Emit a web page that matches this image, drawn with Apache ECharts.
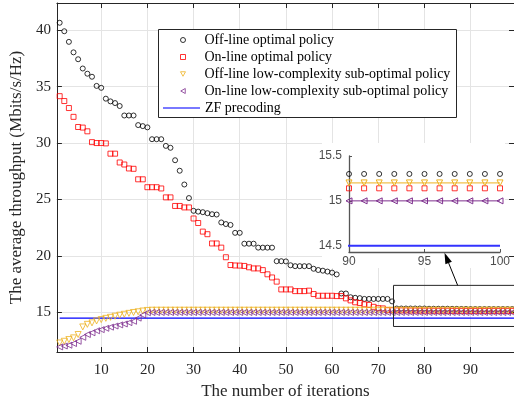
<!DOCTYPE html>
<html>
<head>
<meta charset="utf-8">
<script src="https://cdn.jsdelivr.net/npm/echarts@6/dist/echarts.min.js"></script>
<style>
html, body { margin: 0; padding: 0; background: #fff; }
#chart { width: 514px; height: 405px; }
</style>
</head>
<body>
<div id="chart"></div>
<script>
// values, iteration 1..100
var offOptimal = [
    40.65, 39.9, 38.96, 38.03, 37.42, 36.6, 36.14, 35.87, 35.06, 34.89,
    33.93, 33.69, 33.54, 33.28, 32.44, 32.44, 32.44, 31.59, 31.5, 31.39,
    30.34, 30.34, 30.34, 29.75, 29.58, 28.48, 27.55, 26.33, 25.13, 24.0,
    23.93, 23.88, 23.79, 23.7, 23.67, 22.97, 22.83, 22.75, 22.05, 22.05,
    21.09, 21.09, 21.09, 20.74, 20.74, 20.74, 20.74, 19.54, 19.54, 19.52,
    19.18, 19.1, 19.1, 19.1, 19.1, 18.87, 18.76, 18.7, 18.62, 18.53,
    18.37, 16.68, 16.68, 16.35, 16.3, 16.27, 16.2, 16.2, 16.2, 16.2,
    16.2, 16.2, 15.98, 15.35, 15.35, 15.35, 15.35, 15.35, 15.35, 15.35,
    15.33, 15.33, 15.33, 15.33, 15.33, 15.32, 15.32, 15.31, 15.31, 15.3,
    15.3, 15.3, 15.3, 15.3, 15.3, 15.3, 15.3, 15.3, 15.3, 15.3
]
var onOptimal = [
    34.15, 33.72, 33.1, 32.32, 31.42, 31.37, 31.04, 30.08, 30.0, 30.0,
    29.97, 29.06, 29.06, 28.28, 28.1, 27.75, 27.72, 26.79, 26.79, 26.09,
    26.09, 26.09, 25.98, 25.19, 25.19, 24.43, 24.43, 24.3, 24.3, 23.32,
    22.92, 22.16, 21.93, 21.11, 21.11, 20.74, 19.89, 19.2, 19.16, 19.15,
    19.12, 19.0, 18.9, 18.9, 18.75, 18.38, 18.1, 17.73, 17.04, 17.04,
    17.04, 16.89, 16.89, 16.89, 16.93, 16.63, 16.48, 16.48, 16.48, 16.48,
    16.45, 16.45, 16.25, 16.07, 15.9, 15.84, 15.72, 15.67, 15.5, 15.38,
    15.36, 15.2, 15.2, 15.18, 15.18, 15.18, 15.17, 15.17, 15.16, 15.16,
    15.16, 15.15, 15.15, 15.15, 15.15, 15.14, 15.14, 15.14, 15.14, 15.14,
    15.14, 15.14, 15.14, 15.14, 15.14, 15.14, 15.14, 15.14, 15.14, 15.14
]
var offLowComplexity = [
    12.3, 12.45, 12.6, 12.75, 13.05, 13.72, 13.95, 14.08, 14.25, 14.37,
    14.48, 14.57, 14.67, 14.76, 14.84, 14.92, 15.0, 15.06, 15.13, 15.18,
    15.2, 15.2, 15.2, 15.2, 15.2, 15.2, 15.2, 15.2, 15.2, 15.2,
    15.2, 15.2, 15.2, 15.2, 15.2, 15.2, 15.2, 15.2, 15.2, 15.2,
    15.2, 15.2, 15.2, 15.2, 15.2, 15.2, 15.2, 15.2, 15.2, 15.2,
    15.2, 15.2, 15.2, 15.2, 15.2, 15.2, 15.2, 15.2, 15.2, 15.2,
    15.2, 15.2, 15.2, 15.2, 15.2, 15.2, 15.2, 15.2, 15.2, 15.2,
    15.2, 15.2, 15.2, 15.2, 15.2, 15.2, 15.2, 15.2, 15.2, 15.2,
    15.2, 15.2, 15.2, 15.2, 15.2, 15.2, 15.2, 15.2, 15.2, 15.2,
    15.2, 15.2, 15.2, 15.2, 15.2, 15.2, 15.2, 15.2, 15.2, 15.2
]
var onLowComplexity = [
    11.95, 12.03, 12.1, 12.25, 12.45, 12.8, 13.05, 13.2, 13.38, 13.48,
    13.6, 13.7, 13.8, 13.9, 13.98, 14.1, 14.22, 14.5, 14.78, 14.98,
    15.0, 15.0, 15.0, 15.0, 15.0, 15.0, 15.0, 15.0, 15.0, 15.0,
    15.0, 15.0, 15.0, 15.0, 15.0, 15.0, 15.0, 15.0, 15.0, 15.0,
    15.0, 15.0, 15.0, 15.0, 15.0, 15.0, 15.0, 15.0, 15.0, 15.0,
    15.0, 15.0, 15.0, 15.0, 15.0, 15.0, 15.0, 15.0, 15.0, 15.0,
    15.0, 15.0, 15.0, 15.0, 15.0, 15.0, 15.0, 15.0, 15.0, 15.0,
    15.0, 15.0, 15.0, 15.0, 15.0, 15.0, 15.0, 15.0, 15.0, 15.0,
    15.0, 15.0, 15.0, 15.0, 15.0, 15.0, 15.0, 15.0, 15.0, 15.0,
    15.0, 15.0, 15.0, 15.0, 15.0, 15.0, 15.0, 15.0, 15.0, 15.0
]
var zfIterations = [1, 100]
var zfValues = [14.5, 14.5]

var seriesNames = [
    'Off-line optimal policy',
    'On-line optimal policy',
    'Off-line low-complexity sub-optimal policy',
    'On-line low-complexity sub-optimal policy',
    'ZF precoding'
]

// zoom box / arrow, in data units of the main axes
var zoomBox = [[73.3, 17.4], [110, 13.76]]
var arrowFrom = [87.2, 17.4]
var arrowTo = [84.35, 20.28]

var serif = '"Liberation Serif", "Times New Roman", serif'
var sans = '"Liberation Sans", Arial, sans-serif'
var axisColor = '#262626'

// legend icons for the two triangle markers (down / left)
var triDown = 'path://M0,0L10,0L5,9Z'
var triLeft = 'path://M9,0L9,10L0,5Z'

/** pairs [iteration, value], from..to */
function toPairs(values, from, to) {
    let out = []
    for (let i = from; i <= to; i++) {
        out.push([i, values[i - 1]])
    }
    return out
}

function markerSeries(name, values, symbol, rotate, color, inset, size = 5) {
    let s = {
        type: 'scatter',
        xAxisIndex: inset ? 2 : 0,
        yAxisIndex: inset ? 2 : 0,
        data: inset ? toPairs(values, 90, 100) : toPairs(values, 1, 100),
        symbol: symbol,
        symbolRotate: rotate,
        symbolSize: size,
        clip: !inset,
        z: inset ? 6 : 2,
        itemStyle: { color: 'rgba(0,0,0,0)', borderColor: color, borderWidth: 1 },
        emphasis: { disabled: true }
    }
    if (name) s.name = name
    return s
}

function insetLine(values, symbol, rotate, color) {
    return {
        type: 'line',
        xAxisIndex: 2,
        yAxisIndex: 2,
        data: toPairs(values, 90, 100),
        symbol: symbol,
        symbolRotate: rotate,
        symbolSize: 6,
        showSymbol: true,
        clip: false,
        z: 6,
        lineStyle: { color: color, width: 1 },
        itemStyle: { color: 'rgba(0,0,0,0)', borderColor: color, borderWidth: 1 },
        emphasis: { disabled: true }
    }
}

function mainAxis(extra) {
    return Object.assign({
        type: 'value',
        gridIndex: 0,
        axisLine: { show: true, onZero: false, lineStyle: { color: axisColor, width: 1 } },
        axisTick: { show: true, inside: true, length: 5, lineStyle: { color: axisColor } },
        splitLine: { show: true, lineStyle: { color: '#e4e4e4', width: 1 } }
    }, extra)
}

var legendText = { fontFamily: serif, fontSize: 14, color: '#000', lineHeight: 14 }

var myChart = echarts.init(document.getElementById('chart'))

var option = {
    animation: false,
    backgroundColor: '#fff',
    grid: [
        { left: 50, right: 0, top: 3, bottom: 50 },
        { left: 349, top: 156, width: 151, height: 96 }
    ],
    legend: [
        {
            // four marker entries
            orient: 'vertical',
            left: 180,
            top: 33,
            padding: 0,
            itemGap: 3,
            itemWidth: 5,
            itemHeight: 5,
            z: 10,
            data: [
                { name: seriesNames[0] },
                { name: seriesNames[1] },
                { name: seriesNames[2], icon: triDown },
                { name: seriesNames[3], icon: triLeft }
            ],
            itemStyle: { borderWidth: 1 },
            textStyle: Object.assign({ padding: [0, 0, 0, 14] }, legendText)
        },
        {
            // ZF line entry
            orient: 'vertical',
            left: 163,
            top: 101,
            padding: 0,
            itemWidth: 37,
            itemHeight: 1.3,
            z: 10,
            data: [{ name: seriesNames[4], icon: 'rect' }],
            itemStyle: { color: '#4d4dff' },
            textStyle: legendText
        }
    ],
    xAxis: [
        mainAxis({
            min: 0.4, max: 99.4, splitNumber: 10,
            name: 'The number of iterations',
            nameLocation: 'middle',
            nameGap: 31,
            nameTextStyle: { fontFamily: serif, fontSize: 17, color: axisColor },
            axisLabel: { showMinLabel: false, showMaxLabel: false, color: axisColor, fontFamily: serif, fontSize: 15, margin: 11 }
        }),
        mainAxis({
            min: 0.4, max: 99.4, splitNumber: 10, position: 'top',
            axisLabel: { show: false }, splitLine: { show: false }
        }),
        {
            type: 'value', gridIndex: 1, min: 90, max: 100, interval: 5, z: 5,
            axisLine: { show: true, onZero: false, lineStyle: { color: '#555', width: 1.3 } },
            axisTick: { show: true, inside: true, length: 3, lineStyle: { color: '#555' } },
            axisLabel: { color: '#4d4d4d', fontFamily: sans, fontSize: 12, margin: 4 },
            splitLine: { show: false }
        }
    ],
    yAxis: [
        mainAxis({
            min: 11.5, max: 42.4, splitNumber: 6,
            name: 'The average throughput (Mbits/s/Hz)',
            nameLocation: 'middle',
            nameGap: 27,
            nameTextStyle: { fontFamily: serif, fontSize: 17, color: axisColor },
            axisLabel: { showMinLabel: false, showMaxLabel: false, color: axisColor, fontFamily: serif, fontSize: 15, margin: 6 }
        }),
        mainAxis({
            min: 11.5, max: 42.4, splitNumber: 6, position: 'right',
            axisLabel: { show: false }, splitLine: { show: false }
        }),
        {
            type: 'value', gridIndex: 1, min: 14.43, max: 15.5, splitNumber: 2, z: 5,
            axisLine: { show: true, onZero: false, lineStyle: { color: '#555', width: 1.3 } },
            axisTick: { show: true, inside: true, length: 3, lineStyle: { color: '#555' } },
            axisLabel: { showMinLabel: false, color: '#4d4d4d', fontFamily: sans, fontSize: 12, margin: 7 },
            splitLine: { show: false }
        }
    ],
    series: [
        markerSeries(seriesNames[0], offOptimal, 'circle', 0, '#000', false),
        markerSeries(seriesNames[1], onOptimal, 'rect', 0, '#ff0000', false),
        markerSeries(seriesNames[2], offLowComplexity, 'triangle', 180, '#edb120', false, 6),
        markerSeries(seriesNames[3], onLowComplexity, 'triangle', 90, '#7e2f8e', false, 6),
        {
            name: seriesNames[4],
            type: 'line',
            data: zfIterations.map((x, i) => [x, zfValues[i]]),
            symbol: 'none',
            z: 2,
            lineStyle: { color: '#0000ff', width: 1.3 },
            itemStyle: { color: '#0000ff' },
            emphasis: { disabled: true }
        },
        // inset copies
        markerSeries(null, offOptimal, 'circle', 0, '#000', true),
        markerSeries(null, onOptimal, 'rect', 0, '#ff0000', true),
        insetLine(offLowComplexity, 'triangle', 180, '#edb120'),
        insetLine(onLowComplexity, 'triangle', 90, '#7e2f8e'),
        {
            type: 'line',
            xAxisIndex: 2,
            yAxisIndex: 2,
            data: zfIterations.map((x, i) => [x, zfValues[i]]),
            symbol: 'none',
            z: 6,
            lineStyle: { color: '#3333ff', width: 2 },
            emphasis: { disabled: true }
        }
    ]
}

myChart.setOption(option)

// legend frame, zoom rectangle and arrow (placed through the main axes)
let toPx = p => myChart.convertToPixel({ xAxisIndex: 0, yAxisIndex: 0 }, p)
let b0 = toPx(zoomBox[0])
let b1 = toPx(zoomBox[1])
let a0 = toPx(arrowFrom)
let a1 = toPx(arrowTo)
let dx = a1[0] - a0[0], dy = a1[1] - a0[1]
let len = Math.sqrt(dx * dx + dy * dy)
let ux = dx / len, uy = dy / len
let headLen = 11, headHalf = 3.5
let base = [a1[0] - ux * headLen, a1[1] - uy * headLen]

myChart.setOption({
    graphic: [
        // white background behind the inset
        { id: 'insetBg', type: 'rect', z: 1, shape: { x: 322, y: 143, width: 183, height: 125 }, style: { fill: '#fff' } },
        {
            id: 'legendBox', type: 'rect', z: 9,
            shape: { x: 158.5, y: 29.5, width: 298, height: 88 },
            style: { fill: '#fff', stroke: axisColor, lineWidth: 1 }
        },
        {
            id: 'zoomBox', type: 'rect', z: 7,
            shape: { x: b0[0], y: b0[1], width: b1[0] - b0[0], height: b1[1] - b0[1] },
            style: { fill: null, stroke: axisColor, lineWidth: 1 }
        },
        {
            id: 'arrowLine', type: 'line', z: 7,
            shape: { x1: a0[0], y1: a0[1], x2: base[0], y2: base[1] },
            style: { stroke: '#000', lineWidth: 1 }
        },
        {
            id: 'arrowHead', type: 'polygon', z: 7,
            shape: {
                points: [
                    [a1[0], a1[1]],
                    [base[0] - uy * headHalf, base[1] + ux * headHalf],
                    [base[0] + uy * headHalf, base[1] - ux * headHalf]
                ]
            },
            style: { fill: '#000' }
        }
    ]
})
</script>
</body>
</html>
